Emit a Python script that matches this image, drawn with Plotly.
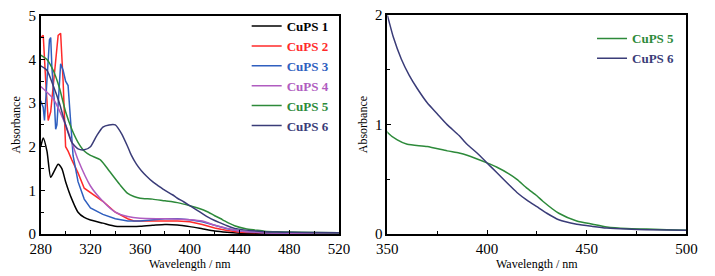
import plotly.graph_objects as go

# ---------------- data ----------------
wl1 = [280, 282, 285, 288, 291, 294, 297, 300, 305, 310, 315, 320, 330, 340, 350, 360, 370, 380, 390, 400, 410, 420, 430, 440, 460, 480, 520]
a1 = [2.0, 2.2, 1.9, 1.3, 1.45, 1.6, 1.5, 1.2, 0.8, 0.5, 0.38, 0.32, 0.25, 0.18, 0.17, 0.18, 0.2, 0.22, 0.21, 0.17, 0.12, 0.07, 0.04, 0.02, 0.01, 0.01, 0.01]

wl2 = [280, 282, 284, 286, 288, 290, 292, 294, 296, 298, 300, 302, 305, 310, 315, 320, 330, 340, 350, 355, 360, 370, 380, 390, 400, 410, 420, 430, 440, 460, 480, 520]
a2 = [4.5, 4.55, 3.5, 2.6, 2.8, 3.4, 4.0, 4.55, 4.6, 3.5, 2.0, 1.9, 1.7, 1.4, 1.05, 0.95, 0.75, 0.5, 0.35, 0.3, 0.3, 0.3, 0.3, 0.3, 0.28, 0.22, 0.14, 0.08, 0.04, 0.02, 0.015, 0.01]

wl3 = [280, 282, 283, 285, 287, 288, 289, 291, 292, 293, 295, 296, 298, 300, 302, 304, 306, 310, 315, 320, 330, 340, 350, 360, 370, 380, 390, 400, 410, 420, 430, 440, 460, 480, 520]
a3 = [3.05, 2.9, 2.6, 3.6, 4.45, 4.5, 3.8, 3.0, 2.4, 2.5, 3.4, 3.9, 3.75, 3.5, 3.4, 2.5, 1.8, 1.2, 0.8, 0.6, 0.45, 0.35, 0.3, 0.3, 0.32, 0.35, 0.35, 0.33, 0.28, 0.2, 0.12, 0.07, 0.03, 0.02, 0.01]

wl4 = [280, 290, 300, 305, 310, 320, 330, 340, 350, 360, 380, 400, 410, 420, 430, 440, 460, 480, 520]
a4 = [3.38, 3.1, 2.5, 2.1, 1.7, 1.1, 0.75, 0.5, 0.4, 0.36, 0.35, 0.33, 0.3, 0.2, 0.13, 0.07, 0.03, 0.02, 0.01]

wl5 = [280, 285, 290, 295, 300, 305, 310, 315, 320, 328, 335, 344, 350, 355, 360, 370, 380, 386, 390, 400, 405, 411, 415, 420, 425, 428, 436, 445, 453, 460, 470, 480, 500, 520]
a5 = [4.1, 4.0, 3.75, 3.35, 2.8, 2.4, 2.1, 1.9, 1.8, 1.7, 1.45, 1.12, 0.93, 0.86, 0.82, 0.8, 0.76, 0.74, 0.72, 0.65, 0.61, 0.55, 0.5, 0.42, 0.35, 0.3, 0.19, 0.12, 0.09, 0.065, 0.05, 0.045, 0.035, 0.03]

wl6 = [280, 285, 290, 295, 300, 305, 310, 315, 320, 325, 330, 335, 340, 345, 350, 353, 357, 361, 365, 370, 375, 380, 386, 390, 395, 400, 405, 411, 415, 420, 425, 430, 436, 445, 453, 460, 470, 480, 500, 520]
a6 = [3.85, 3.75, 3.4, 3.0, 2.5, 2.1, 1.95, 1.93, 2.0, 2.25, 2.45, 2.5, 2.5, 2.3, 2.0, 1.8, 1.6, 1.45, 1.33, 1.2, 1.1, 1.0, 0.9, 0.82, 0.74, 0.65, 0.56, 0.45, 0.38, 0.31, 0.25, 0.19, 0.13, 0.09, 0.07, 0.055, 0.045, 0.04, 0.035, 0.03]

names = ["CuPS 1", "CuPS 2", "CuPS 3", "CuPS 4", "CuPS 5", "CuPS 6"]
colors = ["#000000", "#ff2a2a", "#2f5fbf", "#b05cc0", "#2d8a3a", "#3a3c78"]
xs = [wl1, wl2, wl3, wl4, wl5, wl6]
ys = [a1, a2, a3, a4, a5, a6]
shapes_ = ["spline", "linear", "linear", "spline", "spline", "spline"]

FONT = "Liberation Serif, Times New Roman, DejaVu Serif, serif"

fig = go.Figure()
for i in range(6):
    fig.add_trace(go.Scatter(
        x=xs[i], y=ys[i], mode="lines",
        line=dict(color=colors[i], width=1.5, shape=shapes_[i], smoothing=0.6),
        name=f"<span style='color:{colors[i]}'><b>{names[i]}</b></span>",
        xaxis="x", yaxis="y", legend="legend"))
for i in [4, 5]:
    fig.add_trace(go.Scatter(
        x=xs[i], y=ys[i], mode="lines",
        line=dict(color=colors[i], width=1.5, shape="spline", smoothing=0.6),
        name=f"<span style='color:{colors[i]}'><b>{names[i]}</b></span>",
        xaxis="x2", yaxis="y2", legend="legend2"))

ax_common = dict(showline=True, linecolor="black", linewidth=1.5, mirror=True,
                 showgrid=False, zeroline=False, ticks="inside", ticklen=4,
                 tickcolor="black", tickwidth=1.2, automargin=False,
                 tickfont=dict(family=FONT, size=15, color="black"),
                 title_font=dict(family=FONT, size=12, color="black"))

fig.update_layout(
    width=715, height=276,
    margin=dict(l=0, r=0, t=0, b=0, autoexpand=False),
    font=dict(family=FONT),
    paper_bgcolor="white", plot_bgcolor="white",
    xaxis=dict(domain=[0.057, 0.474], range=[280, 520], dtick=40, tick0=280,
               minor=dict(dtick=20, ticks="inside", ticklen=3, tickcolor="black"),
               title=dict(text="Wavelength / nm", standoff=0), anchor="y", **ax_common),
    yaxis=dict(domain=[0.152, 0.943], range=[0, 5], dtick=1,
               minor=dict(dtick=0.5, ticks="inside", ticklen=3, tickcolor="black"),
               title=dict(text="Absorbance", standoff=5), anchor="x", **ax_common),
    xaxis2=dict(domain=[0.5417, 0.960], range=[350, 500], dtick=50, tick0=350,
                minor=dict(dtick=25, ticks="inside", ticklen=3, tickcolor="black"),
                title=dict(text="Wavelength / nm", standoff=0), anchor="y2", **ax_common),
    yaxis2=dict(domain=[0.152, 0.945], range=[0, 2], dtick=1,
                minor=dict(dtick=0.5, ticks="inside", ticklen=3, tickcolor="black"),
                title=dict(text="Absorbance", standoff=5), anchor="x2", **ax_common),
    legend=dict(x=0.345, y=0.96, xanchor="left", yanchor="top",
                bgcolor="rgba(0,0,0,0)", font=dict(family=FONT, size=13),
                itemwidth=30, tracegroupgap=0),
    legend2=dict(x=0.828, y=0.915, xanchor="left", yanchor="top",
                 bgcolor="rgba(0,0,0,0)", font=dict(family=FONT, size=13),
                 itemwidth=30),
)

fig.write_html("out.html", config={"displayModeBar": False},
               post_script="document.body.style.margin='0';")
